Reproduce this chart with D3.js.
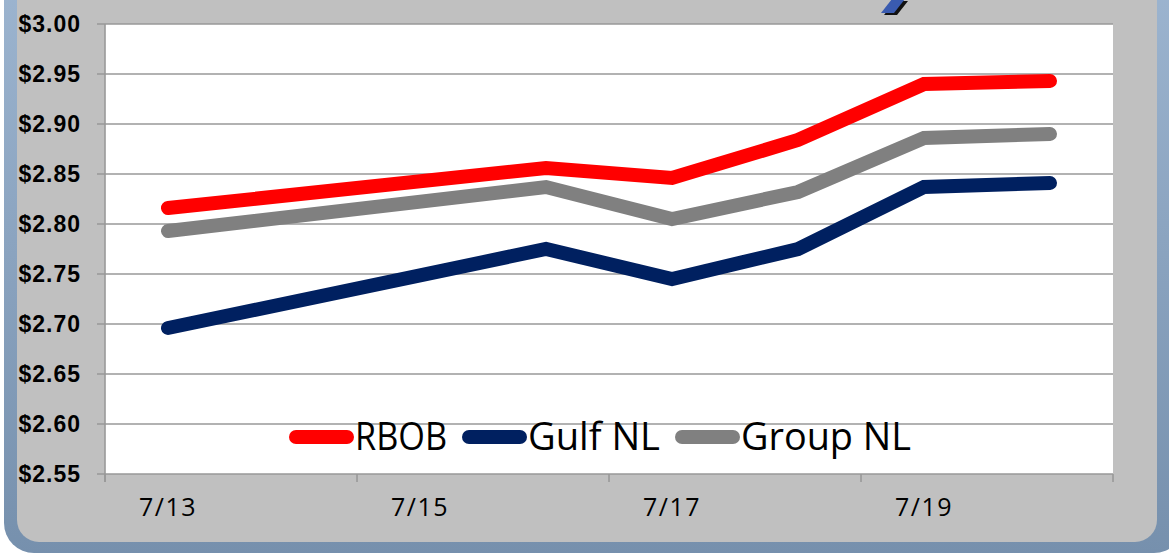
<!DOCTYPE html>
<html>
<head>
<meta charset="utf-8">
<script src="https://cdn.jsdelivr.net/npm/d3@7"></script>
<style>
  html, body { margin: 0; padding: 0; background: #ffffff; }
  svg { display: block; }
</style>
</head>
<body>
<svg id="chart" width="1169" height="555"></svg>
<script>
// ---- data ----
const dates = ["7/13", "7/14", "7/15", "7/16", "7/17", "7/18", "7/19", "7/20"];
const rbob    = [2.816, null, null, 2.856, 2.846, 2.884, 2.940, 2.943];
const gulfNL  = [2.696, null, null, 2.775, 2.745, 2.775, 2.837, 2.841];
const groupNL = [2.793, null, null, 2.837, 2.805, 2.832, 2.886, 2.890];
const seriesNames = ["RBOB", "Gulf NL", "Group NL"];
const yTicks = [2.55, 2.60, 2.65, 2.70, 2.75, 2.80, 2.85, 2.90, 2.95, 3.00];
const xTickLabels = ["7/13", "7/15", "7/17", "7/19"];

const colors = ["#ff0000", "#002060", "#808080"];
const seriesValues = [rbob, gulfNL, groupNL];

(function () {
const svg = d3.select("#chart");

// ---- frame ----
const defs = svg.append("defs");
const grad = defs.append("linearGradient").attr("id", "frameGrad")
  .attr("x1", "0").attr("y1", "0").attr("x2", "0").attr("y2", "1");
grad.append("stop").attr("offset", "0").attr("stop-color", "#9fb7d2");
grad.append("stop").attr("offset", "1").attr("stop-color", "#7690ad");

svg.append("rect")
  .attr("x", 4).attr("y", -60).attr("width", 1180).attr("height", 613)
  .attr("rx", 30).attr("ry", 30)
  .attr("fill", "url(#frameGrad)");
svg.append("rect")
  .attr("x", 17).attr("y", -50).attr("width", 1140).attr("height", 592)
  .attr("rx", 22).attr("ry", 22)
  .attr("fill", "#c0c0c0");

// partial title glyph at the top edge
svg.append("path")
  .attr("d", "M884,15 L897,15 L908,1 L895,1 Z")
  .attr("fill", "#111");
svg.append("path")
  .attr("d", "M881,13 L894,13 L905,-1 L892,-1 Z")
  .attr("fill", "#3a5bb0");

// ---- scales ----
const pLeft = 105, pRight = 1113, pTop = 24, pBottom = 474;
const x = d3.scaleBand().domain(dates).range([pLeft, pRight]).padding(0);
const y = d3.scaleLinear().domain([2.55, 3.00]).range([pBottom, pTop]);

// plot area
svg.append("rect")
  .attr("x", pLeft).attr("y", pTop)
  .attr("width", pRight - pLeft).attr("height", pBottom - pTop)
  .attr("fill", "#ffffff");

// gridlines
svg.append("g").selectAll("line").data(yTicks).join("line")
  .attr("x1", pLeft - 8).attr("x2", pRight)
  .attr("y1", d => y(d)).attr("y2", d => y(d))
  .attr("stroke", "#999999").attr("stroke-width", 1.6);

// y axis line
svg.append("line")
  .attr("x1", pLeft).attr("x2", pLeft)
  .attr("y1", pTop).attr("y2", pBottom + 8)
  .attr("stroke", "#999999").attr("stroke-width", 1.6);

// x tick marks (every second category boundary)
const xTickPos = dates.filter((d, i) => i % 2 === 0).map(d => x(d)).concat([pRight]);
svg.append("g").selectAll("line").data(xTickPos).join("line")
  .attr("x1", d => d).attr("x2", d => d)
  .attr("y1", pBottom).attr("y2", pBottom + 8)
  .attr("stroke", "#999999").attr("stroke-width", 1.6);

// y labels
svg.append("g").selectAll("text").data(yTicks).join("text")
  .attr("x", 81).attr("y", d => y(d))
  .attr("dy", "0.35em")
  .attr("text-anchor", "end")
  .attr("font-family", "Liberation Sans, Arial, sans-serif")
  .attr("font-weight", "bold")
  .attr("font-size", 23)
  .attr("letter-spacing", 1)
  .attr("fill", "#000")
  .text(d => "$" + d.toFixed(2));

// x labels
svg.append("g").selectAll("text").data(xTickLabels).join("text")
  .attr("x", d => x(d) + x.bandwidth() / 2)
  .attr("y", 516)
  .attr("text-anchor", "middle")
  .attr("font-family", "Open Sans, Noto Sans, sans-serif")
  .attr("font-size", 25)
  .attr("letter-spacing", 1.5)
  .attr("fill", "#000")
  .text(d => d);

// ---- lines ----
const line = d3.line()
  .x(d => x(d.date) + x.bandwidth() / 2)
  .y(d => y(d.value));

seriesValues.forEach((vals, si) => {
  const pts = dates.map((d, i) => ({ date: d, value: vals[i] })).filter(p => p.value !== null);
  svg.append("path")
    .attr("d", line(pts))
    .attr("fill", "none")
    .attr("stroke", colors[si])
    .attr("stroke-width", 14)
    .attr("stroke-linecap", "round")
    .attr("stroke-linejoin", "miter");
});

// ---- legend ----
const legendTextLen = [92, 132, 170];
let lx = 289;
const ly = 437;
seriesNames.forEach((name, i) => {
  svg.append("line")
    .attr("x1", lx + 7).attr("x2", lx + 58)
    .attr("y1", ly).attr("y2", ly)
    .attr("stroke", colors[i]).attr("stroke-width", 14)
    .attr("stroke-linecap", "round");
  svg.append("text")
    .attr("x", lx + 66).attr("y", 450)
    .attr("font-family", "Open Sans, Noto Sans, sans-serif")
    .attr("font-size", 38)
    .attr("textLength", legendTextLen[i])
    .attr("lengthAdjust", "spacingAndGlyphs")
    .attr("fill", "#000")
    .text(name);
  lx += 66 + legendTextLen[i] + 15;
});
})();
</script>
</body>
</html>
